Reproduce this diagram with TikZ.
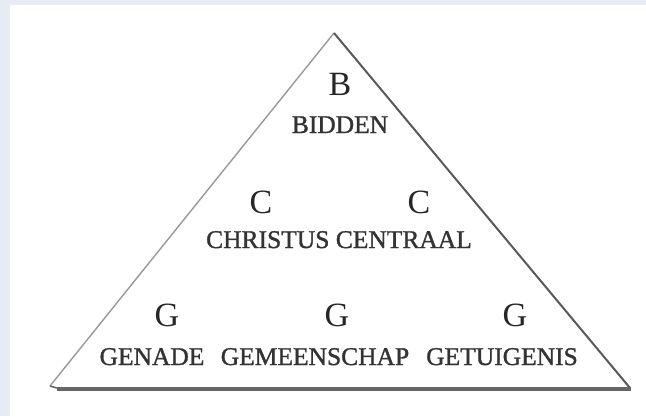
\documentclass[tikz,border=0pt]{standalone}
\usepackage{fontspec}
\setmainfont{Liberation Serif}
\newfontfamily\wordfont[FakeBold=1.2]{Liberation Serif}
\begin{document}
\begin{tikzpicture}[x=1pt,y=-1pt,
  word/.style={anchor=base,inner sep=0pt,text=black!80,font=\wordfont\fontsize{25.5}{28}\selectfont},
  letter/.style={anchor=base,inner sep=0pt,text=black!85,font=\fontsize{34}{38}\selectfont},
]
\useasboundingbox (0,0) rectangle (646,416);
\fill[fill={rgb,255:red,230;green,235;blue,244}] (0,0) rectangle (646,416);
\fill[white] (10,5) rectangle (646,416);
\coordinate (apex) at (334,33);
\coordinate (bl) at (50,386);
\coordinate (br) at (630,388);
\draw[black!40,line width=1.4pt] (apex) -- (bl);
\draw[black!65,line width=2pt] (apex) -- (br);
\draw[black!60,line width=1.5pt] (bl) -- (57,388);
\draw[black!60,line width=3.5pt] (57,389) -- (631,389);
\node[letter] (b) at (340,95) {B};
\node[word] (bidden) at (340,133) {BIDDEN};
\node[letter] (c1) at (261,213) {C};
\node[letter] (c2) at (419,213) {C};
\node[word] (cc) at (339,248) {CHRISTUS CENTRAAL};
\node[letter] (g1) at (167,326) {G};
\node[letter] (g2) at (337,326) {G};
\node[letter] (g3) at (515,326) {G};
\node[word] (genade) at (152,365) {GENADE};
\node[word] (gemeen) at (315,365) {GEMEENSCHAP};
\node[word] (getuig) at (502,365) {GETUIGENIS};
\end{tikzpicture}
\end{document}
